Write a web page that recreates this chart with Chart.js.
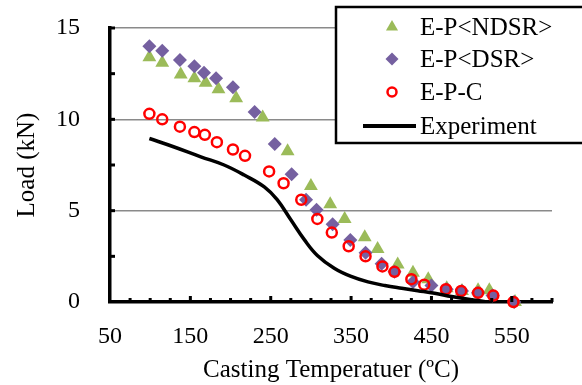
<!DOCTYPE html>
<html>
<head>
<meta charset="utf-8">
<script src="https://cdn.jsdelivr.net/npm/chart.js@4"></script>
<style>
  html, body { margin: 0; padding: 0; background: #fff; }
  #wrap { width: 582px; height: 385px; }
</style>
</head>
<body>
<div id="wrap"><canvas id="chart" width="582" height="385"></canvas></div>
<script>
// Data
const xTicks = [50, 150, 250, 350, 450, 550];
const yTicks = [0, 5, 10, 15];

// E-P<NDSR>
const ndsrTemp = [99, 115, 138, 155, 169, 185, 207, 240, 271, 300, 324, 342, 367, 383, 408, 427, 446, 469, 488, 508, 522, 554];
const ndsrLoad = [13.4, 13.1, 12.45, 12.25, 12.0, 11.65, 11.15, 10.1, 8.25, 6.35, 5.35, 4.55, 3.55, 2.9, 2.05, 1.6, 1.25, 0.75, 0.6, 0.65, 0.65, 0];

// E-P<DSR>
const dsrTemp = [99, 115, 137, 155, 167, 182, 203, 230, 255, 276, 294, 307, 327, 349, 368, 388, 404, 427, 450, 469, 488, 508, 526, 553];
const dsrLoad = [14.0, 13.75, 13.25, 12.9, 12.55, 12.25, 11.75, 10.4, 8.65, 7.0, 5.6, 5.05, 4.25, 3.4, 2.7, 2.1, 1.65, 1.1, 0.9, 0.7, 0.6, 0.5, 0.35, 0];

// E-P-C
const epcTemp = [99, 115, 137, 155, 168, 183, 203, 218, 248, 266, 288, 308, 326, 347, 368, 389, 404, 425, 441, 468, 487, 508, 527, 552];
const epcLoad = [10.3, 10.0, 9.6, 9.3, 9.15, 8.75, 8.35, 8.0, 7.15, 6.5, 5.6, 4.55, 3.8, 3.05, 2.5, 1.95, 1.65, 1.25, 0.95, 0.7, 0.6, 0.5, 0.35, 0];

// Experiment
const expTemp = [99, 129, 163, 192, 217, 242, 258, 275, 292, 308, 329, 350, 371, 392, 413, 433, 454, 475, 496, 517];
const expLoad = [8.95, 8.5, 7.95, 7.5, 6.95, 6.3, 5.6, 4.5, 3.4, 2.55, 1.85, 1.4, 1.1, 0.9, 0.75, 0.62, 0.48, 0.3, 0.15, 0.02];

const FONT = "'Liberation Serif', 'Times New Roman', serif";

function toPoints(xs, ys) {
    return xs.map((x, i) => ({ x: x, y: ys[i] }));
}

// small inside tick marks on both axes
const axisTicks = {
    id: 'axisTicks',
    afterDraw(chart) {
        const ctx = chart.ctx;
        const xs = chart.scales.x, ys = chart.scales.y;
        const y0 = ys.getPixelForValue(0);
        const x0 = xs.getPixelForValue(50);
        ctx.save();
        ctx.strokeStyle = '#000';
        ctx.lineWidth = 3;
        for (let v = 75; v <= 600; v += 25) {
            const px = xs.getPixelForValue(v);
            const len = (v - 50) % 100 === 0 ? 6 : 4;
            ctx.beginPath();
            ctx.moveTo(px, y0);
            ctx.lineTo(px, y0 - len);
            ctx.stroke();
        }
        for (let v = 2.5; v <= 15; v += 2.5) {
            const py = ys.getPixelForValue(v);
            ctx.beginPath();
            ctx.moveTo(x0, py);
            ctx.lineTo(x0 + 5, py);
            ctx.stroke();
        }
        ctx.restore();
    }
};

// boxed legend sitting over the top right of the plot
const boxLegend = {
    id: 'boxLegend',
    afterDraw(chart) {
        const ctx = chart.ctx;
        const left = 336, top = 7, bottom = 143;
        ctx.save();
        ctx.fillStyle = '#fff';
        ctx.fillRect(left, top, 260, bottom - top);
        ctx.strokeStyle = '#000';
        ctx.lineWidth = 2.5;
        ctx.strokeRect(left, top, 260, bottom - top);

        const rows = [27, 59, 92, 126];
        ctx.font = '25px ' + FONT;
        ctx.textBaseline = 'middle';
        ctx.textAlign = 'left';
        chart.data.datasets.forEach((ds, i) => {
            const y = rows[i];
            if (ds.showLine) {
                ctx.strokeStyle = ds.borderColor;
                ctx.lineWidth = 4;
                ctx.beginPath();
                ctx.moveTo(363, y);
                ctx.lineTo(416, y);
                ctx.stroke();
            } else {
                ctx.fillStyle = ds.backgroundColor;
                ctx.strokeStyle = ds.borderColor;
                Chart.helpers.drawPoint(ctx, {
                    pointStyle: ds.pointStyle,
                    radius: ds.legendRadius,
                    rotation: 0,
                    borderWidth: ds.borderWidth
                }, 392, y);
            }
            ctx.fillStyle = '#000';
            ctx.fillText(ds.label, 420, y + 1);
        });
        ctx.restore();
    }
};

new Chart(document.getElementById('chart'), {
    type: 'scatter',
    data: {
        datasets: [{
            label: 'E-P<NDSR>',
            data: toPoints(ndsrTemp, ndsrLoad),
            pointStyle: 'triangle',
            pointRadius: 8,
            legendRadius: 7,
            backgroundColor: '#9BBB59',
            borderColor: '#9BBB59',
            borderWidth: 0,
            clip: false,
            order: 4
        }, {
            label: 'E-P<DSR>',
            data: toPoints(dsrTemp, dsrLoad),
            pointStyle: 'rectRot',
            pointRadius: 7,
            legendRadius: 6.5,
            backgroundColor: '#7560A0',
            borderColor: '#7560A0',
            borderWidth: 0,
            clip: false,
            order: 3
        }, {
            label: 'E-P-C',
            data: toPoints(epcTemp, epcLoad),
            pointStyle: 'circle',
            pointRadius: 5,
            legendRadius: 4.5,
            backgroundColor: 'rgba(255,255,255,0)',
            borderColor: '#FF0000',
            borderWidth: 2.5,
            clip: false,
            order: 2
        }, {
            label: 'Experiment',
            data: toPoints(expTemp, expLoad),
            showLine: true,
            pointRadius: 0,
            borderColor: '#000',
            borderWidth: 3.5,
            tension: 0.4,
            order: 1
        }]
    },
    options: {
        responsive: false,
        animation: false,
        layout: { padding: { top: 28, right: 30, left: 0, bottom: 0 } },
        plugins: {
            legend: { display: false },
            tooltip: { enabled: false }
        },
        scales: {
            x: {
                type: 'linear',
                min: 50,
                max: 600,
                afterBuildTicks: (scale) => { scale.ticks = xTicks.map(v => ({ value: v })); },
                afterFit: (scale) => { scale.height = 83; },
                grid: { display: false, drawTicks: true, tickLength: 19, tickColor: 'rgba(0,0,0,0)' },
                border: { display: true, color: '#000', width: 3.5 },
                ticks: {
                    autoSkip: false,
                    maxRotation: 0,
                    padding: 1,
                    color: '#000',
                    font: { family: FONT, size: 24 }
                },
                title: {
                    display: true,
                    text: 'Casting Temperatuer (ºC)',
                    color: '#000',
                    font: { family: FONT, size: 25, lineHeight: 1.2 },
                    padding: { top: 0, bottom: 0 }
                }
            },
            y: {
                min: 0,
                max: 15,
                afterBuildTicks: (scale) => { scale.ticks = yTicks.map(v => ({ value: v })); },
                afterFit: (scale) => { scale.width = 110; },
                grid: {
                    color: '#8A8A8A',
                    lineWidth: 1.5,
                    drawTicks: true,
                    tickLength: 28,
                    tickColor: 'rgba(0,0,0,0)'
                },
                border: { display: true, color: '#000', width: 3.5 },
                ticks: {
                    padding: 2,
                    color: '#000',
                    font: { family: FONT, size: 24 }
                },
                title: {
                    display: true,
                    text: 'Load (kN)',
                    color: '#000',
                    font: { family: FONT, size: 25, lineHeight: 1.2 },
                    padding: { top: 12, bottom: 0 }
                }
            }
        }
    },
    plugins: [axisTicks, boxLegend]
});
</script>
</body>
</html>
